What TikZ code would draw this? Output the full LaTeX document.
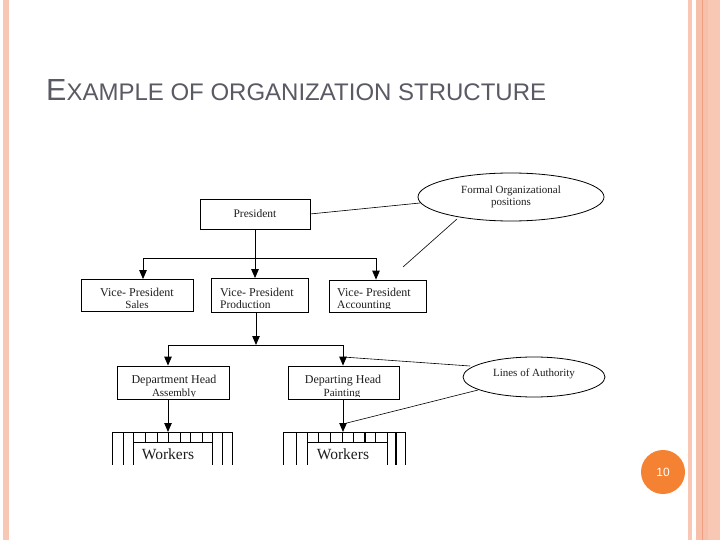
\documentclass[tikz,border=0pt]{standalone}
\usepackage{fontspec}
\setmainfont{Liberation Serif}
\newfontfamily\titlefont{Liberation Sans}
\usetikzlibrary{arrows.meta,shapes.geometric}
\definecolor{peach}{RGB}{249,200,180}
\definecolor{peachdark}{RGB}{240,160,128}
\definecolor{orangec}{RGB}{245,130,50}
\definecolor{titlegray}{RGB}{90,90,100}
\definecolor{txt}{RGB}{30,30,30}
\begin{document}
\begin{tikzpicture}[x=1pt,y=-1pt,
  box/.style={draw=black, line width=0.8pt, rectangle, inner sep=0pt},
  lbl/.style={inner sep=0pt, text=txt, font=\fontsize{12}{12}\selectfont},
  oval/.style={draw=black, line width=0.8pt, ellipse, inner sep=0pt, text=txt, font=\fontsize{11}{12}\selectfont, align=center},
  conn/.style={line width=0.8pt, draw=black},
  arr/.style={conn, -{Triangle[width=7.5pt,length=9pt]}},
  wline/.style={line width=0.8pt, draw=black}
]
\useasboundingbox (0,0) rectangle (720,540);
\fill[white] (0,0) rectangle (720,540);
% slide decoration
\fill[peach] (3,0) rectangle (9,540);
\fill[peach] (688,0) rectangle (692,540);
\fill[peach] (696,0) rectangle (720,540);
\fill[peach!80!peachdark] (696,0) rectangle (708,540);
\draw[peachdark, line width=1pt] (702,0) -- (702,540);
% title
\node[anchor=base west, inner sep=0pt, text=titlegray] (title) at (46,101)
  {\titlefont\fontsize{30.5}{30}\selectfont E\fontsize{24}{24}\selectfont XAMPLE OF ORGANIZATION STRUCTURE};
% page number
\node[circle, fill=orangec, minimum size=44pt, inner sep=0pt, text=white, font=\titlefont\fontsize{12}{12}\selectfont] (page) at (663,472) {10};

% president
\node[box, minimum width=110pt, minimum height=30pt, text=txt, font=\fontsize{11.5}{12}\selectfont] (pres) at (255,214) {President};
% VP boxes
\node[box, minimum width=112pt, minimum height=32pt] (vps) at (137,295.5) {};
\node[box, minimum width=97pt, minimum height=34pt] (vpp) at (259.5,295.5) {};
\node[box, minimum width=97pt, minimum height=32pt] (vpa) at (377.5,296) {};
\begin{scope}
  \clip (81,279) rectangle (193,308);
  \node[lbl, anchor=base] (vpst) at (137,296) {Vice- President};
  \node[lbl, anchor=base, font=\fontsize{11}{11}\selectfont] (vpss) at (137,308.5) {Sales};
\end{scope}
\begin{scope}
  \clip (211,279) rectangle (308,307.5);
  \node[lbl, anchor=base west] (vppt) at (220,296) {Vice- President};
  \node[lbl, anchor=base west, font=\fontsize{11.5}{11}\selectfont] (vpps) at (220,308) {Production};
\end{scope}
\begin{scope}
  \clip (329,279) rectangle (426,308.5);
  \node[lbl, anchor=base west] (vpat) at (337,296) {Vice- President};
  \node[lbl, anchor=base west, font=\fontsize{11.5}{11}\selectfont] (vpas) at (337,308.5) {Accounting};
\end{scope}
% department heads
\node[box, minimum width=112pt, minimum height=33pt] (dha) at (173,382.5) {};
\node[box, minimum width=111pt, minimum height=33pt] (dhp) at (343.5,382.5) {};
\begin{scope}
  \clip (117,366) rectangle (229,396);
  \node[lbl, anchor=base] (dhat) at (174,383) {Department Head};
  \node[lbl, anchor=base, font=\fontsize{11}{11}\selectfont] (dhas) at (174,396) {Assembly};
\end{scope}
\begin{scope}
  \clip (288,366) rectangle (399,396);
  \node[lbl, anchor=base] (dhpt) at (343,383) {Departing Head};
  \node[lbl, anchor=base, font=\fontsize{11}{11}\selectfont] (dhps) at (342,396) {Painting};
\end{scope}
% ellipses
\node[oval, minimum width=186pt, minimum height=48pt] (formal) at (511,197) {Formal Organizational\\positions};
\node[oval, minimum width=142pt, minimum height=40pt] (lines) at (534,377) {Lines of Authority\\[-3pt]};

% coordinates
\coordinate (j1l) at (143,258);
\coordinate (j1r) at (376,258);
\coordinate (j2) at (256,345);
\coordinate (j2l) at (168,345);
\coordinate (j2r) at (343,345);
\coordinate (wa) at (168,432);
\coordinate (wp) at (343,432);
\coordinate (ptip) at (343,357);
\coordinate (wtip) at (343,424);
\coordinate (fe1) at (420,203);
\coordinate (fe2) at (457,219);
\coordinate (fe3) at (403,267);
\coordinate (le1) at (470,366);
\coordinate (le2) at (478,390);
\coordinate (pe) at (310,214);

% president connectors
\draw[arr] (pres.south) -- (pres.south |- vpp.north);
\draw[conn] (j1l) -- (j1r);
\draw[arr] (j1l) -- (j1l |- vps.north);
\draw[arr] (j1r) -- (j1r |- vpa.north);
% production to department heads
\draw[arr] (vpp.south -| j2) -- (j2);
\draw[conn] (j2l) -- (j2r);
\draw[arr] (j2l) -- (j2l |- dha.north);
\draw[arr] (j2r) -- (j2r |- dhp.north);
% to workers
\draw[arr] (dha.south -| wa) -- (wa);
\draw[arr] (dhp.south -| wp) -- (wp);
% annotation lines
\draw[conn, line width=0.6pt] (pe) -- (fe1);
\draw[conn, line width=0.6pt] (fe2) -- (fe3);
\draw[conn, line width=0.6pt] (ptip) -- (le1);
\draw[conn, line width=0.6pt] (le2) -- (wtip);

% workers blocks
\foreach \x in {112,123,133,212,222,232} \draw[wline] (\x,432) -- (\x,465);
\draw[wline] (112,432) -- (232,432);
\draw[wline] (133,442) -- (212,442);
\foreach \x in {145,157,168,180,190,202} \draw[wline] (\x,432) -- (\x,442);
\node[text=txt, font=\fontsize{15.5}{15}\selectfont, anchor=base, inner sep=0pt] (wka) at (168,459) {Workers};

\foreach \x in {283,296,307,387,405} \draw[wline] (\x,432) -- (\x,465);
\draw[line width=1.6pt] (396,432) -- (396,465);
\draw[wline] (283,432) -- (405,432);
\draw[wline] (307,442) -- (387,442);
\foreach \x in {318,330,342,353,375} \draw[wline] (\x,432) -- (\x,442);
\draw[line width=1.6pt] (365,432) -- (365,442);
\node[text=txt, font=\fontsize{15.5}{15}\selectfont, anchor=base, inner sep=0pt] (wkp) at (343,459) {Workers};
\end{tikzpicture}
\end{document}
